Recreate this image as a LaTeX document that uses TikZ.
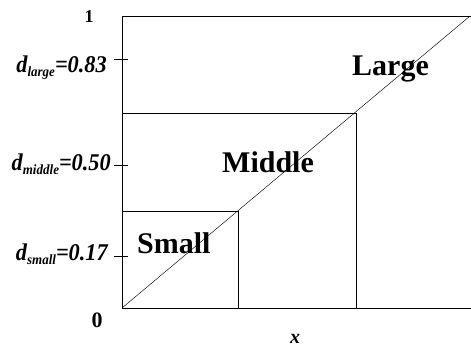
\documentclass[tikz,border=0pt]{standalone}
\usepackage{fontspec}
\setmainfont{Liberation Serif}
\begin{document}
\begin{tikzpicture}[x=1pt,y=-1pt,
  frame/.style={line width=0.9pt,black},
  diag/.style={line width=0.45pt,black},
  ticklbl/.style={anchor=base east,inner sep=0pt,font=\fontsize{24}{28}\selectfont\bfseries\itshape},
  region/.style={anchor=base west,inner sep=0pt,font=\fontsize{30}{34}\selectfont\bfseries},
  axislbl/.style={inner sep=0pt,font=\fontsize{20}{24}\selectfont\bfseries}]
\useasboundingbox (0,0) rectangle (471,349);
% corners
\coordinate (TL) at (122,16);
\coordinate (TR) at (471,16);
\coordinate (BL) at (122,308);
\coordinate (BR) at (471,308);
\coordinate (D) at (470,16);
\coordinate (ML) at (122,113);
\coordinate (MC) at (356,113);
\coordinate (MB) at (356,308);
\coordinate (SL) at (122,211);
\coordinate (SC) at (238,211);
\coordinate (SB) at (238,308);
% frame
\draw[frame] (TR) -- (TL) -- (BL) -- (BR);
\draw[frame] (ML) -- (MC) -- (MB);
\draw[frame] (SL) -- (SC) -- (SB);
\draw[diag] (BL) -- (D);
% ticks
\coordinate (t1a) at (114,59);  \coordinate (t1b) at (128,59);
\coordinate (t2a) at (114,165); \coordinate (t2b) at (128,165);
\coordinate (t3a) at (114,256); \coordinate (t3b) at (128,256);
\draw[frame] (t1a) -- (t1b);
\draw[frame] (t2a) -- (t2b);
\draw[frame] (t3a) -- (t3b);
% tick labels
\node[ticklbl] (dl) at (107,72) {\scalebox{0.93}[1]{d\raisebox{-4pt}{\fontsize{14}{15}\selectfont large}=0.83}};
\node[ticklbl] (dm) at (111,170) {\scalebox{0.93}[1]{d\raisebox{-4pt}{\fontsize{14}{15}\selectfont middle}=0.50}};
\node[ticklbl] (ds) at (108,260) {\scalebox{0.93}[1]{d\raisebox{-4pt}{\fontsize{14}{15}\selectfont small}=0.17}};
% axis labels
\node[axislbl,anchor=base] (one) at (89,22) {\fontsize{18}{20}\selectfont 1};
\node[axislbl,anchor=base] (zero) at (97,327) {\fontsize{22}{24}\selectfont 0};
\node[axislbl,anchor=base,font=\fontsize{20}{24}\selectfont\bfseries\itshape] (xl) at (295,343) {x};
% region labels
\node[region] (large) at (352,75) {Large};
\node[region] (middle) at (222,172) {Middle};
\node[region] (small) at (137,253) {Small};
\end{tikzpicture}
\end{document}
